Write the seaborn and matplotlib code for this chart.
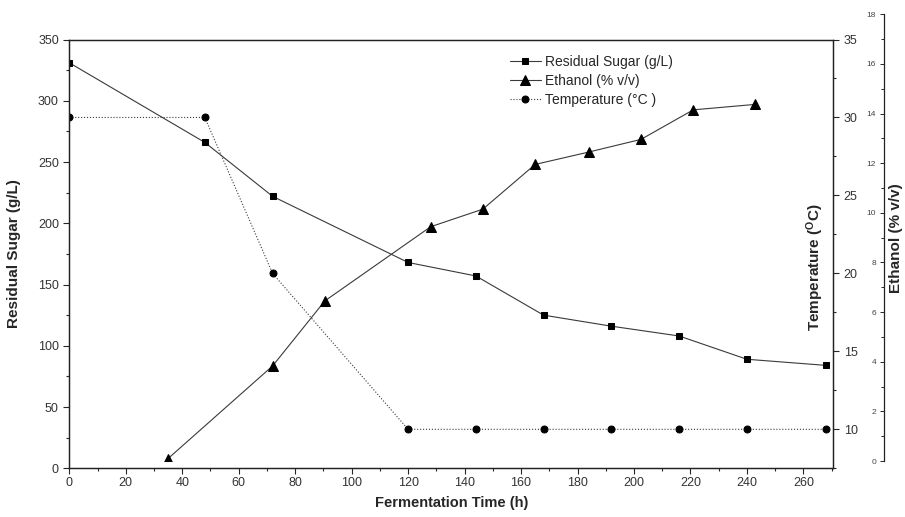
import numpy as np
import matplotlib
matplotlib.use('Agg')
import matplotlib.pyplot as plt
from matplotlib.ticker import MultipleLocator
import seaborn as sns

# data
sugar_time = [0, 48, 72, 120, 144, 168, 192, 216, 240, 268]
sugar = [331, 266, 222, 168, 157, 125, 116, 108, 89, 84]

ethanol_time = [35, 72, 90.5, 128, 146.5, 165, 184, 202.5, 221, 243]
ethanol = [0.1, 3.83, 6.45, 9.44, 10.15, 11.95, 12.45, 12.96, 14.15, 14.37]

temp_time = [0, 48, 72, 120, 144, 168, 192, 216, 240, 268]
temp = [30, 30, 20, 10, 10, 10, 10, 10, 10, 10]


def main():
    sns.set_style('ticks')
    plt.rcParams['font.family'] = ['Liberation Sans', 'DejaVu Sans']
    plt.rcParams['mathtext.fontset'] = 'custom'
    plt.rcParams['mathtext.rm'] = 'Liberation Sans'
    plt.rcParams['mathtext.bf'] = 'Liberation Sans:bold'

    W, H = 905, 517
    fig = plt.figure(figsize=(W / 100, H / 100), dpi=100)

    # main axes box in pixels
    x0, x1 = 69.3, 833.3
    y_top, y_bot = 39.5, 468.3
    ax = fig.add_axes([x0 / W, 1 - y_bot / H, (x1 - x0) / W, (y_bot - y_top) / H])

    line_col = '#3a3a3a'
    tick_col = '#333333'

    sns.lineplot(x=sugar_time, y=sugar, ax=ax, color=line_col, lw=0.8,
                 marker='s', markersize=5, markerfacecolor='black',
                 markeredgecolor='black', label='Residual Sugar (g/L)')
    ax.set_xlim(0, 270.6)
    ax.set_ylim(0, 350)
    ax.xaxis.set_major_locator(MultipleLocator(20))
    ax.xaxis.set_minor_locator(MultipleLocator(10))
    ax.yaxis.set_major_locator(MultipleLocator(50))
    ax.yaxis.set_minor_locator(MultipleLocator(25))
    ax.set_xlabel('Fermentation Time (h)', fontsize=10.5, fontweight='bold', labelpad=5)
    ax.set_ylabel('Residual Sugar (g/L)', fontsize=11, fontweight='bold', labelpad=12)
    ax.tick_params(axis='both', which='major', direction='out', length=4,
                   width=0.8, labelsize=9, labelcolor=tick_col)
    ax.tick_params(axis='x', which='major', pad=2)
    ax.tick_params(axis='both', which='minor', direction='out', length=2.5, width=0.8)
    for s in ax.spines.values():
        s.set_linewidth(0.9)
        s.set_color('#222222')

    # temperature on the right spine
    ax2 = ax.twinx()
    sns.lineplot(x=temp_time, y=temp, ax=ax2, color=line_col, lw=0.8, ls=':',
                 marker='o', markersize=5, markerfacecolor='black',
                 markeredgecolor='black', label='Temperature (°C )')
    ax2.set_ylim(7.5, 35)
    ax2.yaxis.set_major_locator(MultipleLocator(5))
    ax2.yaxis.set_minor_locator(MultipleLocator(2.5))
    ax2.set_ylabel('Temperature ($\\mathbf{^{O}C}$)', fontsize=11, fontweight='bold')
    # the reference puts this label just inside the right spine
    ax2.yaxis.set_label_coords((804 - x0) / (x1 - x0), (y_bot - 267) / (y_bot - y_top))
    ax2.tick_params(axis='y', which='major', direction='out', length=4,
                    width=0.8, labelsize=9, labelcolor=tick_col)
    ax2.tick_params(axis='y', which='minor', direction='out', length=2.5, width=0.8)
    for s in ax2.spines.values():
        s.set_linewidth(0.9)
        s.set_color('#222222')

    # ethanol axis: shorter box, spine pushed out to the right
    e_top, e_bot = 14.3, 461.0
    ax3 = fig.add_axes([x0 / W, 1 - e_bot / H, (x1 - x0) / W, (e_bot - e_top) / H])
    ax3.patch.set_visible(False)
    sns.lineplot(x=ethanol_time, y=ethanol, ax=ax3, color=line_col, lw=0.8,
                 marker='^', markersize=6.5, markerfacecolor='black',
                 markeredgecolor='black', label='Ethanol (% v/v)')
    ax3.set_xlim(ax.get_xlim())
    ax3.set_ylim(0, 18)
    for k in ['top', 'right', 'bottom']:
        ax3.spines[k].set_visible(False)
    ax3.spines['left'].set_position(('axes', (884.3 - x0) / (x1 - x0)))
    ax3.spines['left'].set_linewidth(0.9)
    ax3.spines['left'].set_color('#222222')
    ax3.set_xticks([])
    ax3.set_xlabel('')
    ax3.yaxis.set_major_locator(MultipleLocator(2))
    ax3.yaxis.set_minor_locator(MultipleLocator(1))
    ax3.tick_params(axis='y', which='major', direction='out', length=3,
                    width=0.7, labelsize=6, labelcolor='#444444', pad=3)
    ax3.tick_params(axis='y', which='minor', direction='out', length=2, width=0.7)
    ax3.set_ylabel('Ethanol (% v/v)', fontsize=11, fontweight='bold')
    ax3.yaxis.set_label_coords((903 - x0) / (x1 - x0), 0.5)

    # one legend for all three series
    handles, labels = [], []
    for a in (ax, ax3, ax2):
        h, l = a.get_legend_handles_labels()
        handles += h
        labels += l
        if a.get_legend() is not None:
            a.get_legend().remove()
    ax3.legend(handles, labels, loc='upper left',
               bbox_to_anchor=((503 - x0) / (x1 - x0), (e_bot - 48) / (e_bot - e_top)),
               frameon=False, fontsize=10, handlelength=2.2, handletextpad=0.3,
               labelspacing=0.35, borderpad=0)

    fig.savefig('out.png', dpi=100)


if __name__ == '__main__':
    main()
